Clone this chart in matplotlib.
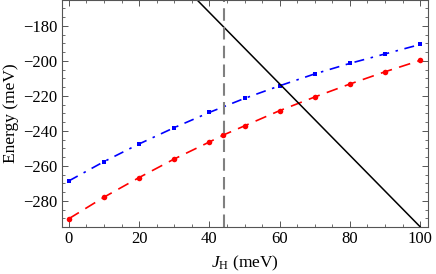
import matplotlib
matplotlib.use("Agg")
import matplotlib.pyplot as plt
from matplotlib.ticker import MultipleLocator

plt.rcParams["font.family"] = ["Liberation Serif", "DejaVu Serif"]
plt.rcParams["mathtext.fontset"] = "custom"
plt.rcParams["mathtext.rm"] = "Liberation Serif"
plt.rcParams["mathtext.it"] = "Liberation Serif:italic"

# data
jh_red = [0, 10, 20, 30, 40, 44, 50, 60, 70, 80, 90, 100]
e_red = [-290.2, -277.9, -266.7, -256.1, -246.4, -242.4, -237.2, -228.5, -220.7, -213.3, -206.3, -199.8]
jh_blue = [0, 10, 20, 30, 40, 50, 60, 70, 80, 90, 100]
e_blue = [-268.6, -257.6, -247.5, -238.2, -229.5, -221.5, -214.3, -207.5, -201.5, -196.1, -190.7]
jh_line = [0, 100]
e_line = [-90.8, -294.8]
jh_cut = 44.2

fig = plt.figure(figsize=(4.36, 2.74), dpi=100)
ax = fig.add_axes([0.142, 0.1726, 0.840, 0.826])

ax.plot(jh_red, e_red, color="red", lw=1.2, dashes=(7, 4.5),
        marker="o", ms=4, markeredgewidth=0)
ax.plot(jh_blue, e_blue, color="blue", lw=1.2, dashes=(6, 4, 1.5, 4),
        marker="s", ms=3.2, markeredgewidth=0)
ax.plot(jh_line, e_line, color="black", lw=1.1)
ax.axvline(jh_cut, color="#808080", lw=1.5, dashes=(6, 3))

ax.set_xlim(-2, 102.3)
ax.set_ylim(-294.8, -165.5)

ax.xaxis.set_major_locator(MultipleLocator(20))
ax.xaxis.set_minor_locator(MultipleLocator(5))
ax.yaxis.set_major_locator(MultipleLocator(20))
ax.yaxis.set_minor_locator(MultipleLocator(5))
ax.tick_params(which="both", direction="in", top=True, right=True,
               color="#555555", labelsize=12, pad=3)
ax.tick_params(which="major", length=4, width=0.7)
ax.tick_params(which="minor", length=2, width=0.6)
for s in ax.spines.values():
    s.set_color("#555555")
    s.set_linewidth(0.8)

ax.set_xlabel("$J_\\mathrm{H}$ (meV)", fontsize=12.5, labelpad=5)
ax.set_ylabel("Energy (meV)", fontsize=12.5, labelpad=3)

fig.savefig("out.png", dpi=100)
